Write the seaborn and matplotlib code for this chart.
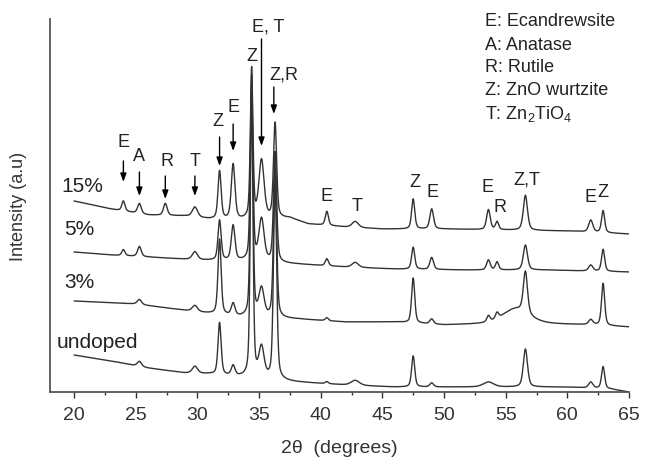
import numpy as np
import pandas as pd
import matplotlib
matplotlib.use("Agg")
import matplotlib.pyplot as plt
import seaborn as sns

# ---------------- data ----------------
series_names = ["15%", "5%", "3%", "undoped"]

# baselines (2theta, intensity a.u.)
base_x_15 = [20, 23, 26, 29, 31, 33.5, 37.5, 39, 42, 45, 50, 55, 60, 65]
base_y_15 = [191, 183, 177, 176, 173, 172, 174, 168, 165, 163, 163, 162, 161, 158]
peak_pos_15 = [24.0, 25.3, 27.4, 29.8, 31.8, 32.9, 34.4, 35.2, 36.3, 40.5, 42.8, 47.5, 49.0, 53.6, 54.3, 56.6, 61.9, 62.9]
peak_h_15 = [10, 10, 12, 10, 48, 55, 150, 58, 95, 14, 6, 30, 20, 20, 8, 35, 12, 22]
peak_w_15 = [0.3, 0.35, 0.35, 0.5, 0.3, 0.35, 0.25, 0.5, 0.3, 0.3, 0.6, 0.3, 0.35, 0.35, 0.3, 0.4, 0.4, 0.3]

base_x_5 = [20, 23, 26, 30, 33.5, 38, 42, 46, 52, 58, 65]
base_y_5 = [140, 137, 135, 132, 131, 128, 125, 123, 122, 122, 120]
peak_pos_5 = [24.0, 25.3, 29.8, 31.8, 32.9, 34.4, 35.2, 36.3, 40.5, 42.8, 47.5, 49.0, 53.6, 54.3, 56.6, 61.9, 62.9]
peak_h_5 = [6, 10, 8, 40, 35, 185, 42, 110, 7, 5, 22, 12, 10, 8, 25, 6, 22]
peak_w_5 = [0.3, 0.35, 0.5, 0.3, 0.35, 0.25, 0.5, 0.3, 0.3, 0.6, 0.3, 0.35, 0.35, 0.3, 0.4, 0.4, 0.3]

base_x_3 = [20, 25, 30, 33.5, 38, 42, 46, 50, 54, 58, 62, 65]
base_y_3 = [91, 88, 80, 75, 73, 70, 70, 67, 68, 68, 67, 65]
peak_pos_3 = [25.3, 29.8, 31.8, 32.9, 34.4, 35.2, 36.3, 40.5, 47.5, 49.0, 53.6, 54.3, 55.8, 56.6, 61.9, 62.9]
peak_h_3 = [5, 6, 75, 12, 235, 28, 150, 3, 45, 5, 6, 6, 15, 42, 5, 42]
peak_w_3 = [0.4, 0.5, 0.3, 0.35, 0.25, 0.5, 0.3, 0.3, 0.3, 0.35, 0.3, 0.3, 2.5, 0.4, 0.4, 0.3]

base_x_u = [20, 23, 26, 29, 31, 33.5, 38, 42, 46, 50, 55, 60, 63.5, 65]
base_y_u = [37, 31, 24, 19, 18, 15, 10, 7, 5, 5, 5, 5, 3, 0]
peak_pos_u = [25.3, 29.8, 31.8, 32.9, 34.4, 35.2, 36.3, 40.5, 42.8, 47.5, 49.0, 53.6, 56.6, 61.9, 62.9]
peak_h_u = [5, 7, 52, 10, 290, 30, 200, 2, 5, 31, 4, 5, 38, 6, 22]
peak_w_u = [0.4, 0.5, 0.3, 0.35, 0.25, 0.5, 0.3, 0.3, 0.8, 0.3, 0.35, 1.0, 0.4, 0.4, 0.3]

# arrows (phase markers) on the 15% pattern
arrow_x = [24.0, 25.3, 27.4, 29.8, 31.8, 32.9, 35.2, 36.2]
arrow_tail = [231, 220, 216, 216, 255, 268, 353, 305]
arrow_head = [210, 196, 193, 196, 226, 241, 246, 278]

peak_labels = ["E", "A", "R", "T", "Z", "E", "Z", "E, T", "Z,R",
               "E", "T", "Z", "E", "E", "R", "Z,T", "E", "Z"]
peak_label_x = [24.0, 25.3, 27.5, 29.8, 31.7, 32.9, 34.45, 35.75, 37.0,
                40.5, 42.95, 47.65, 49.1, 53.5, 54.5, 56.7, 61.85, 62.9]
peak_label_y = [250, 236, 231, 231, 271, 285, 336, 366, 318,
                196, 186, 210, 200, 205, 185, 213, 195, 200]

series_label_x = [19.0, 19.2, 19.2, 18.6]
series_label_y = [206, 163, 110, 50]

legend_lines = ["E: Ecandrewsite", "A: Anatase", "R: Rutile", "Z: ZnO wurtzite",
                r"T: Zn$_2$TiO$_4$"]

x_ticks = [20, 25, 30, 35, 40, 45, 50, 55, 60, 65]

# ---------------- build profiles ----------------
grid = np.arange(20.0, 65.0001, 0.02)


def profile(bx, by, pos, h, w):
    y = np.interp(grid, bx, by)
    for p, a, fw in zip(pos, h, w):
        hw = fw / 2.0
        lor = 1.0 / (1.0 + ((grid - p) / hw) ** 2)
        gau = np.exp(-np.log(2) * ((grid - p) / hw) ** 2)
        y = y + a * (0.45 * lor + 0.55 * gau)
    return y


all_params = [
    (base_x_15, base_y_15, peak_pos_15, peak_h_15, peak_w_15),
    (base_x_5, base_y_5, peak_pos_5, peak_h_5, peak_w_5),
    (base_x_3, base_y_3, peak_pos_3, peak_h_3, peak_w_3),
    (base_x_u, base_y_u, peak_pos_u, peak_h_u, peak_w_u),
]
frames = []
for name, prm in zip(series_names, all_params):
    frames.append(pd.DataFrame({"two_theta": grid, "intensity": profile(*prm), "sample": name}))
df = pd.concat(frames, ignore_index=True)

# ---------------- plot ----------------
sns.set_style("ticks")
plt.rcParams["font.family"] = ["Liberation Sans", "DejaVu Sans"]
plt.rcParams["mathtext.fontset"] = "custom"
plt.rcParams["mathtext.rm"] = "Liberation Sans"
plt.rcParams["mathtext.it"] = "Liberation Sans"

fig = plt.figure(figsize=(6.45, 4.64), dpi=100)
ax = fig.add_axes([50 / 645, 1 - 393 / 464, (629 - 50) / 645, (393 - 20) / 464])

sns.lineplot(data=df, x="two_theta", y="intensity", hue="sample",
             palette=["#333333"] * 4, legend=False, linewidth=1.0,
             estimator=None, sort=False, ax=ax)

ax.set_xlim(18.05, 65)
ax.set_ylim(0, 373)
ax.set_yticks([])
ax.set_xticks(x_ticks)
ax.set_xticks(np.arange(22.5, 65, 5), minor=True)
ax.tick_params(axis="x", which="major", direction="out", length=4, width=1.0,
               labelsize=14, colors="#333333", pad=6)
ax.tick_params(axis="x", which="minor", direction="out", length=2.5, width=1.0,
               colors="#333333")
for s in ["top", "right"]:
    ax.spines[s].set_visible(False)
for s in ["left", "bottom"]:
    ax.spines[s].set_linewidth(1.3)
    ax.spines[s].set_color("#555555")

ax.set_xlabel("2θ  (degrees)", fontsize=14, color="#333333")
ax.xaxis.set_label_coords(0.5, -0.125)
ax.set_ylabel("Intensity (a.u)", fontsize=13, color="#333333")
ax.yaxis.set_label_coords(-0.04, 0.5)

for xa, yt, yh in zip(arrow_x, arrow_tail, arrow_head):
    ax.annotate("", xy=(xa, yh), xytext=(xa, yt),
                arrowprops=dict(arrowstyle="-|>,head_length=0.5,head_width=0.18",
                                color="black", lw=1.0, shrinkA=0, shrinkB=0))

for t, xx, yy in zip(peak_labels, peak_label_x, peak_label_y):
    ax.text(xx, yy, t, ha="center", va="center", fontsize=13, color="#222222")

for t, xx, yy in zip(series_names, series_label_x, series_label_y):
    ax.text(xx, yy, t, ha="left", va="center", fontsize=15, color="#222222")

for i, t in enumerate(legend_lines):
    fig.text(485 / 645, 1 - (22 + 23 * i) / 464, t, ha="left", va="center",
             fontsize=13, color="#222222")

fig.savefig("out.png", dpi=100)
